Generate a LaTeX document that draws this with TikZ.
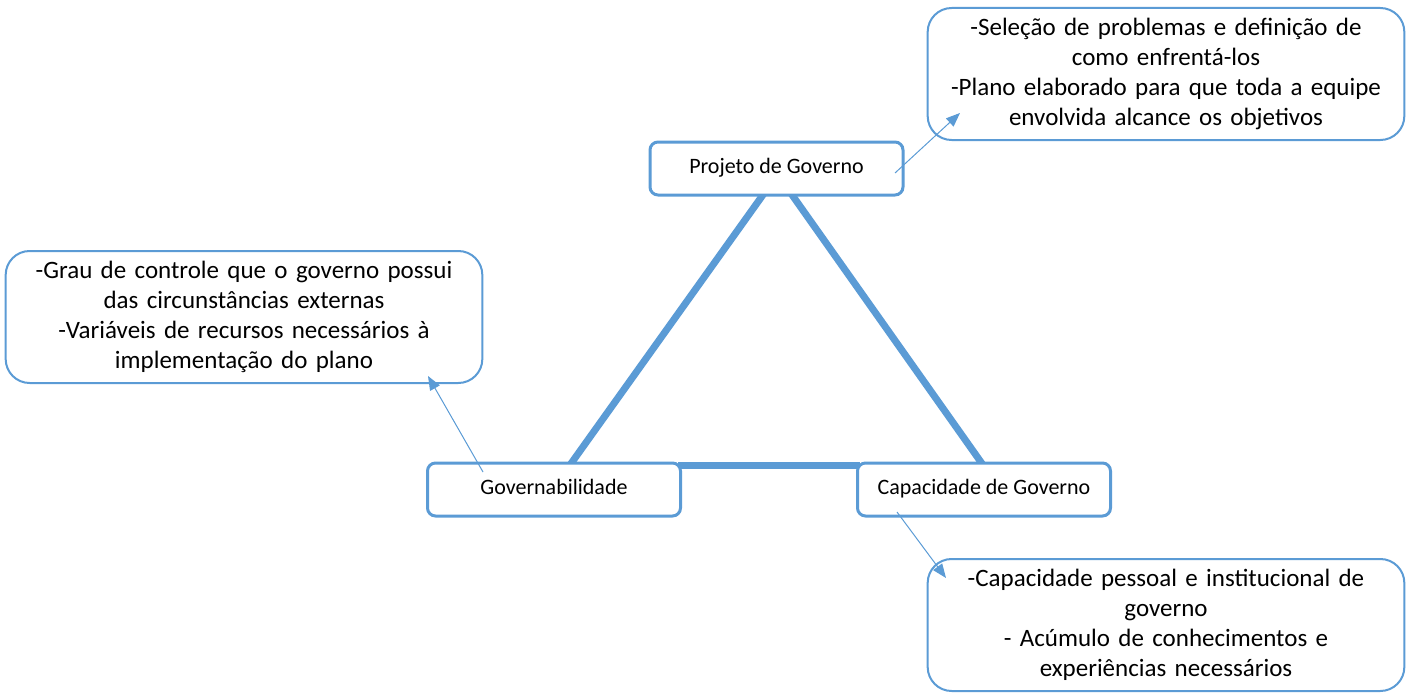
\documentclass[tikz,border=0pt]{standalone}
\usepackage{fontspec}
\setmainfont{Carlito}
\usetikzlibrary{calc,arrows.meta}
\definecolor{mblue}{HTML}{5B9BD5}
\tikzset{
  smallbox/.style={draw=mblue, line width=3pt, rounded corners=8pt, fill=white,
    minimum width=253pt, minimum height=53pt, text height=1.1em, text depth=0.15em,
    font=\fontsize{22}{26}\selectfont},
  callout/.style={draw=mblue, line width=2pt, rounded corners=24pt, fill=white,
    minimum width=476pt, minimum height=132pt, align=center, text width=470pt,
    font=\fontsize{25}{30}\selectfont},
  tri/.style={draw=mblue, line width=7pt},
  pointer/.style={draw=mblue, line width=1pt, -{Triangle[length=14pt,width=11pt]}}
}
\begin{document}
\begin{tikzpicture}[x=1pt,y=-1pt]
\useasboundingbox (0,0) rectangle (1408,693);
\coordinate (t1) at (765,192);
\coordinate (t2) at (790,192);
\coordinate (g1) at (570,465);
\coordinate (c1) at (983,465);
\coordinate (b1) at (678,465);
\coordinate (b2) at (860,465);
\draw[tri] (t1) -- (g1);
\draw[tri] (t2) -- (c1);
\draw[tri] (b1) -- (b2);
\node[smallbox] (pg) at (776.5,168.5) {Projeto de Governo};
\node[smallbox] (gov) at (554,489.5) {Governabilidade};
\node[smallbox] (cap) at (984,489.5) {Capacidade de Governo};
\node[callout] (cpg) at (1166,74) {-Seleção de problemas e definição de\\como enfrentá-los\\-Plano elaborado para que toda a equipe\\envolvida alcance os objetivos};
\node[callout] (cgov) at (244,317) {-Grau de controle que o governo possui\\das circunstâncias externas\\-Variáveis de recursos necessários à\\implementação do plano};
\node[callout] (ccap) at (1166,625) {-Capacidade pessoal e institucional de\\governo\\- Acúmulo de conhecimentos e\\experiências necessários};
\coordinate (a1) at (895,173);
\coordinate (a2) at (483,472);
\coordinate (a3) at (897,512);
\draw[pointer] (a1) -- (960,113);
\draw[pointer] (a2) -- (428,376);
\draw[pointer] (a3) -- (946,578);
\end{tikzpicture}
\end{document}
